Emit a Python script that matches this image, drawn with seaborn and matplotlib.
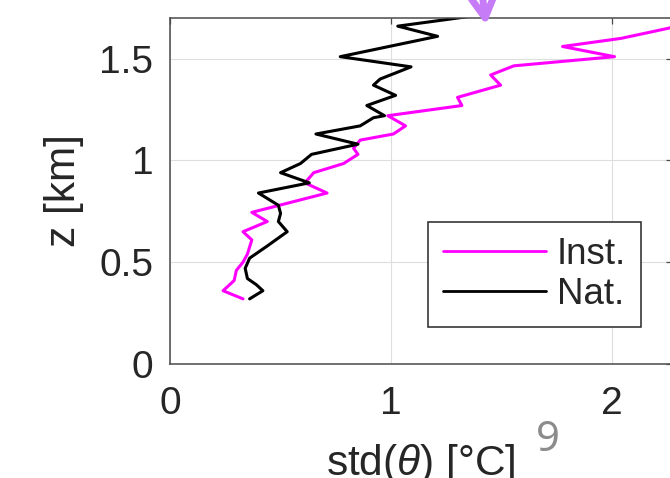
import matplotlib
matplotlib.use("Agg")
import matplotlib.pyplot as plt
import seaborn as sns
import pandas as pd
from matplotlib.lines import Line2D

# ---- data ----
nat_std = [0.36, 0.42, 0.39, 0.35, 0.34, 0.36, 0.44, 0.53, 0.49, 0.50, 0.49, 0.40,
           0.63, 0.50, 0.59, 0.64, 0.85, 0.66, 0.86, 0.92, 0.97, 0.89, 1.02, 0.92,
           0.95, 1.09, 0.77, 1.21, 1.03, 1.37]
nat_z = [0.32, 0.36, 0.39, 0.42, 0.47, 0.52, 0.58, 0.65, 0.70, 0.74, 0.78, 0.84,
         0.89, 0.94, 0.985, 1.03, 1.08, 1.13, 1.17, 1.21, 1.22, 1.27, 1.32, 1.37,
         1.40, 1.46, 1.51, 1.61, 1.66, 1.71]

inst_std = [0.33, 0.24, 0.29, 0.30, 0.33, 0.35, 0.37, 0.33, 0.44, 0.37, 0.71, 0.61,
            0.65, 0.785, 0.85, 0.83, 0.86, 1.01, 1.065, 0.985, 1.32, 1.30, 1.495,
            1.45, 1.555, 2.01, 1.775, 2.04, 2.255, 2.40]
inst_z = [0.32, 0.36, 0.41, 0.46, 0.50, 0.54, 0.61, 0.65, 0.70, 0.745, 0.84, 0.89,
          0.94, 0.985, 1.03, 1.06, 1.10, 1.13, 1.17, 1.22, 1.27, 1.31, 1.37, 1.42,
          1.465, 1.51, 1.56, 1.60, 1.65, 1.705]

series_names = ["Inst.", "Nat."]
series_colors = ["#ff00ff", "#000000"]
x_ticks = [0, 1, 2]
x_ticklabels = ["0", "1", "2"]
y_ticks = [0, 0.5, 1, 1.5]
y_ticklabels = ["0", "0.5", "1", "1.5"]
slide_number = "9"

# ---- build long table ----
df = pd.concat([
    pd.DataFrame({"std": inst_std, "z": inst_z, "series": series_names[0]}),
    pd.DataFrame({"std": nat_std, "z": nat_z, "series": series_names[1]}),
], ignore_index=True)

sns.set_style("white")
plt.rcParams["font.family"] = ["Liberation Sans", "DejaVu Sans"]
plt.rcParams["mathtext.fontset"] = "custom"
plt.rcParams["mathtext.it"] = "Liberation Sans:italic"
plt.rcParams["mathtext.rm"] = "Liberation Sans"

W, H = 670, 478
fig = plt.figure(figsize=(W / 100, H / 100), dpi=100)
ax = fig.add_axes([170 / W, (H - 364) / H, 502 / W, 346 / H])

palette = dict(zip(series_names, series_colors))
for name in series_names:
    sub = df[df["series"] == name]
    sns.lineplot(data=sub, x="std", y="z", sort=False, estimator=None,
                 color=palette[name], linewidth=2.2, ax=ax)

ax.set_xlim(0, 2.27)
ax.set_ylim(0, 1.7)
ax.set_xticks(x_ticks)
ax.set_xticklabels(x_ticklabels)
ax.set_yticks(y_ticks)
ax.set_yticklabels(y_ticklabels)

ax.grid(True, color="#dedede", linewidth=0.8)
ax.set_axisbelow(True)
for sp in ax.spines.values():
    sp.set_visible(True)
    sp.set_color("#4a4a4a")
    sp.set_linewidth(1.1)

ax.tick_params(axis="both", direction="in", length=4.5, width=0.9,
               color="#4a4a4a", top=True, right=True, labelsize=28,
               labelcolor="#262626")
ax.tick_params(axis="x", pad=16)
ax.tick_params(axis="y", pad=12)

ax.set_xlabel(r"std($\theta$) [°C]", fontsize=30.5, color="#262626")
ax.set_ylabel("z [km]", fontsize=30.5, color="#262626")
ax.xaxis.set_label_coords(0.5, -0.225)
ax.yaxis.set_label_coords(-0.172, 0.5)

handles = [Line2D([0], [0], color=c, linewidth=2.0) for c in series_colors]
leg = ax.legend(handles, series_names, loc="upper left",
                bbox_to_anchor=((428 - 170) / 502, (364 - 222) / 346),
                borderaxespad=0, fontsize=26.5, frameon=True, fancybox=False,
                edgecolor="#262626", framealpha=1, handlelength=2.8,
                handletextpad=0.3, borderpad=0.4, labelspacing=0.15)
leg.get_frame().set_linewidth(1.1)

# presentation overlay: purple arrow and slide number
ax.annotate("", xy=(486, H - 25), xycoords="figure pixels",
            xytext=(478, H + 40), textcoords="figure pixels",
            arrowprops=dict(arrowstyle="->,head_length=1.8,head_width=1.0",
                            color="#c77cf7", lw=5, shrinkA=0, shrinkB=0),
            annotation_clip=False)
fig.text(548 / W, (H - 440) / H, slide_number, fontsize=30, color="#8c8c8c",
         ha="center", va="center", family=["Noto Sans", "DejaVu Sans"],
         style="normal", weight="normal")

fig.savefig("out.png", dpi=100)
